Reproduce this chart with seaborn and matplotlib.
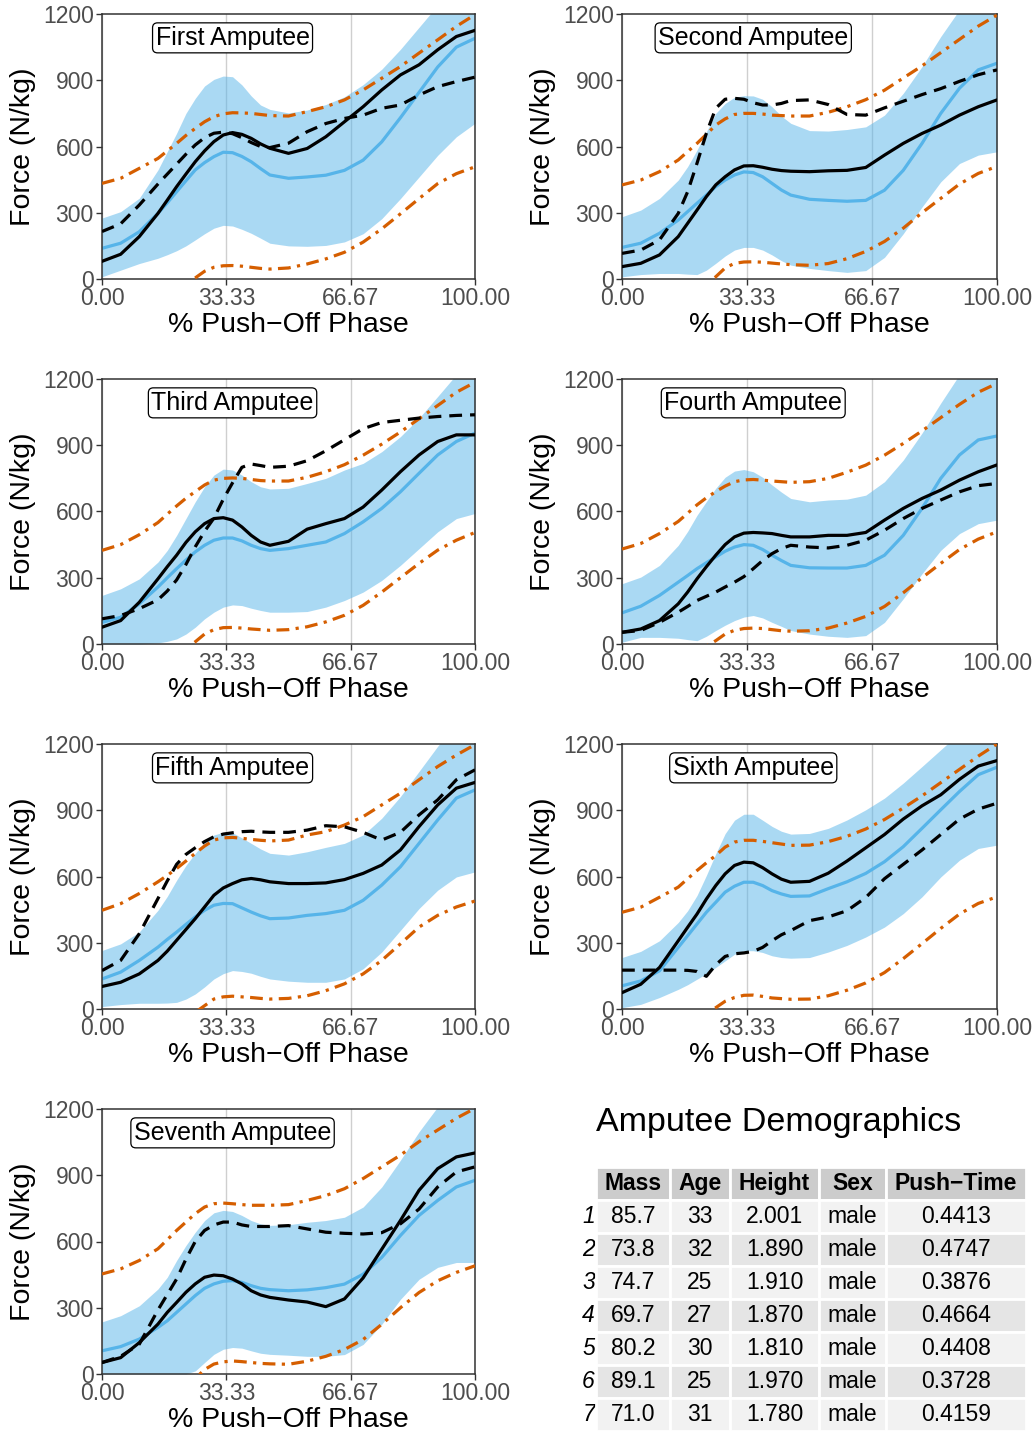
import numpy as np
import pandas as pd
import matplotlib
matplotlib.use("Agg")
import matplotlib.pyplot as plt
import seaborn as sns

# ---------------- data ----------------
phase = [0, 5, 10, 15, 17.5, 20, 22.5, 25, 27.5, 30, 32.5, 35, 37.5, 40, 42.5, 45,
         50, 55, 60, 65, 70, 75, 80, 85, 90, 95, 100]

panel_titles = ["First Amputee", "Second Amputee", "Third Amputee", "Fourth Amputee",
                "Fifth Amputee", "Sixth Amputee", "Seventh Amputee"]

ribbon_hi = [
    [276, 305, 366, 494, 577, 660, 750, 818, 874, 904, 919, 916, 879, 829, 788, 768, 752, 765, 790, 825, 880, 950, 1040, 1140, 1240, 1330, 1380],
    [282, 312, 365, 448, 509, 584, 667, 750, 795, 823, 830, 829, 814, 780, 738, 705, 672, 670, 677, 689, 742, 841, 962, 1098, 1220, 1300, 1350],
    [220, 250, 295, 371, 424, 492, 568, 644, 712, 765, 792, 788, 765, 735, 712, 702, 705, 727, 750, 788, 818, 871, 939, 1023, 1121, 1220, 1300],
    [273, 303, 356, 447, 510, 583, 645, 705, 755, 783, 790, 780, 755, 720, 688, 659, 644, 652, 656, 674, 735, 833, 955, 1091, 1220, 1300, 1350],
    [265, 295, 349, 447, 510, 583, 650, 705, 755, 788, 800, 798, 775, 750, 725, 705, 697, 712, 732, 750, 788, 864, 962, 1076, 1190, 1290, 1340],
    [233, 261, 309, 392, 445, 514, 605, 703, 794, 855, 882, 882, 855, 827, 805, 792, 795, 818, 856, 902, 955, 1023, 1098, 1174, 1250, 1320, 1360],
    [236, 264, 309, 385, 438, 514, 582, 642, 695, 730, 741, 736, 718, 695, 680, 673, 676, 687, 695, 710, 756, 847, 968, 1097, 1210, 1290, 1330],
]
ribbon_lo = [
    [10, 40, 70, 94, 110, 128, 150, 177, 205, 230, 243, 240, 225, 207, 185, 162, 150, 148, 152, 168, 205, 273, 364, 462, 560, 644, 705],
    [10, 20, 25, 25, 22, 20, 40, 71, 104, 131, 143, 143, 131, 109, 83, 63, 48, 38, 30, 38, 98, 205, 326, 440, 523, 561, 576],
    [0, 0, 0, 5, 12, 23, 45, 76, 114, 144, 167, 177, 174, 162, 152, 144, 144, 147, 167, 197, 235, 288, 356, 432, 508, 568, 591],
    [8, 30, 30, 26, 20, 15, 35, 61, 85, 106, 122, 129, 118, 98, 80, 61, 45, 35, 30, 38, 98, 205, 318, 424, 500, 545, 561],
    [11, 20, 26, 26, 27, 30, 45, 68, 100, 136, 160, 174, 170, 162, 148, 136, 126, 121, 121, 136, 182, 258, 356, 455, 538, 598, 621],
    [6, 21, 52, 89, 110, 135, 160, 188, 218, 248, 264, 264, 256, 241, 233, 230, 233, 258, 288, 326, 371, 432, 508, 598, 674, 727, 742],
    [0, 0, 0, 0, 0, 0, 0, 14, 52, 89, 112, 120, 117, 105, 94, 89, 85, 80, 80, 88, 134, 225, 338, 429, 483, 505, 505],
]
mean_curve = [
    [139, 162, 214, 297, 345, 395, 445, 494, 527, 554, 574, 572, 555, 531, 500, 471, 456, 462, 470, 492, 538, 621, 730, 845, 960, 1050, 1090],
    [143, 162, 207, 267, 305, 343, 380, 418, 448, 471, 485, 482, 463, 433, 403, 380, 361, 356, 352, 356, 402, 492, 614, 750, 864, 947, 977],
    [98, 121, 182, 258, 300, 341, 380, 417, 447, 470, 480, 480, 467, 447, 432, 424, 432, 447, 462, 500, 553, 614, 689, 773, 856, 917, 955],
    [141, 171, 220, 280, 310, 341, 368, 394, 420, 439, 450, 447, 428, 402, 378, 356, 345, 344, 344, 356, 402, 492, 614, 750, 856, 924, 942],
    [136, 167, 220, 280, 315, 348, 383, 417, 447, 470, 478, 477, 458, 439, 422, 409, 412, 424, 432, 447, 492, 561, 644, 750, 856, 955, 992],
    [105, 127, 173, 279, 332, 385, 438, 483, 529, 556, 574, 574, 559, 536, 521, 510, 512, 545, 576, 614, 667, 735, 818, 902, 985, 1061, 1095],
    [105, 124, 158, 211, 241, 279, 317, 355, 388, 408, 420, 423, 415, 400, 388, 382, 377, 381, 391, 407, 452, 528, 627, 718, 786, 847, 877],
]
pi_hi = [
    [433, 456, 501, 546, 580, 614, 650, 682, 712, 735, 748, 753, 752, 750, 745, 740, 738, 758, 780, 811, 856, 909, 962, 1023, 1083, 1144, 1197],
    [426, 448, 486, 539, 577, 614, 655, 697, 725, 745, 750, 750, 747, 742, 740, 738, 738, 755, 780, 812, 855, 910, 965, 1025, 1085, 1145, 1195],
    [424, 450, 495, 550, 588, 625, 660, 690, 720, 742, 750, 752, 750, 745, 740, 738, 738, 755, 780, 812, 855, 905, 960, 1020, 1080, 1140, 1185],
    [430, 455, 500, 555, 592, 630, 662, 690, 715, 735, 743, 745, 742, 738, 735, 732, 735, 750, 778, 810, 855, 908, 965, 1025, 1085, 1140, 1180],
    [447, 477, 523, 576, 605, 636, 670, 705, 738, 765, 775, 777, 773, 768, 764, 761, 765, 788, 803, 833, 871, 924, 977, 1038, 1098, 1150, 1197],
    [438, 461, 506, 552, 590, 627, 662, 695, 733, 756, 764, 764, 759, 753, 747, 741, 742, 758, 782, 815, 858, 910, 965, 1025, 1085, 1145, 1200],
    [453, 476, 514, 567, 608, 650, 688, 726, 756, 771, 774, 771, 767, 764, 764, 764, 767, 786, 808, 839, 885, 938, 991, 1052, 1105, 1158, 1203],
]
pi_lo = [
    [-300, -230, -160, -100, -75, -50, -20, 5, 35, 53, 60, 61, 58, 53, 48, 45, 50, 68, 91, 121, 167, 227, 295, 364, 432, 477, 508],
    [-300, -230, -160, -100, -75, -50, -20, 10, 50, 71, 77, 78, 76, 72, 68, 65, 62, 70, 92, 125, 170, 230, 300, 365, 430, 478, 510],
    [-300, -230, -160, -100, -75, -50, -20, 10, 45, 65, 74, 75, 72, 68, 65, 62, 65, 78, 100, 130, 175, 235, 300, 365, 425, 470, 505],
    [-300, -230, -160, -100, -70, -40, -10, 15, 45, 62, 70, 72, 70, 65, 60, 58, 60, 72, 95, 125, 170, 232, 300, 365, 428, 475, 508],
    [-300, -230, -160, -100, -80, -60, -40, -15, 15, 45, 55, 58, 55, 52, 48, 45, 48, 60, 83, 114, 159, 220, 295, 371, 424, 462, 489],
    [-300, -230, -160, -100, -75, -50, -20, 6, 35, 52, 62, 63, 57, 50, 47, 44, 45, 60, 85, 118, 165, 228, 296, 365, 430, 478, 508],
    [-300, -230, -160, -100, -80, -60, -40, -20, 20, 45, 55, 59, 56, 52, 48, 46, 44, 58, 80, 111, 156, 225, 300, 369, 422, 460, 490],
]
subject_solid = [
    [80, 112, 192, 297, 357, 418, 475, 531, 580, 622, 652, 663, 655, 637, 612, 592, 569, 591, 644, 712, 780, 856, 924, 970, 1038, 1098, 1126],
    [56, 71, 109, 192, 252, 312, 373, 426, 463, 494, 512, 513, 506, 497, 491, 488, 486, 490, 492, 505, 561, 614, 659, 697, 742, 780, 811],
    [76, 106, 189, 295, 350, 402, 460, 508, 545, 568, 572, 561, 530, 492, 462, 447, 465, 520, 545, 568, 620, 697, 780, 856, 917, 947, 947],
    [53, 68, 106, 182, 235, 295, 350, 402, 450, 485, 502, 505, 503, 500, 492, 485, 485, 492, 492, 505, 561, 614, 659, 697, 742, 780, 811],
    [102, 121, 159, 220, 262, 311, 360, 409, 462, 515, 548, 568, 585, 591, 585, 576, 568, 568, 571, 586, 614, 652, 720, 826, 924, 1000, 1026],
    [74, 112, 188, 309, 370, 430, 498, 559, 612, 650, 665, 662, 640, 612, 588, 574, 578, 615, 670, 730, 790, 860, 920, 970, 1040, 1100, 1125],
    [52, 74, 142, 226, 279, 324, 370, 408, 438, 448, 445, 430, 408, 377, 358, 347, 335, 326, 305, 340, 435, 565, 695, 832, 930, 983, 1001],
]
subject_dashed = [
    [215, 250, 335, 430, 475, 520, 565, 607, 640, 660, 665, 658, 640, 618, 600, 595, 615, 667, 704, 727, 742, 773, 788, 833, 871, 894, 914],
    [116, 131, 177, 297, 395, 524, 660, 773, 814, 818, 814, 798, 788, 788, 795, 808, 811, 790, 745, 742, 775, 805, 835, 862, 895, 925, 947],
    [114, 129, 160, 200, 240, 290, 360, 440, 510, 570, 655, 730, 800, 815, 808, 800, 805, 830, 875, 925, 975, 1003, 1013, 1023, 1030, 1035, 1038],
    [53, 61, 98, 144, 170, 197, 216, 235, 258, 280, 305, 341, 378, 409, 432, 447, 439, 435, 447, 470, 515, 568, 614, 652, 689, 717, 727],
    [174, 220, 341, 500, 580, 655, 700, 730, 758, 780, 792, 798, 803, 805, 802, 800, 800, 810, 830, 825, 800, 765, 800, 879, 947, 1038, 1083],
    [176, 176, 176, 176, 175, 170, 148, 200, 238, 250, 254, 261, 279, 309, 336, 355, 400, 417, 445, 505, 590, 655, 720, 790, 860, 905, 932],
    [52, 80, 135, 290, 360, 430, 520, 600, 650, 675, 688, 688, 675, 668, 668, 668, 672, 657, 642, 637, 634, 640, 680, 747, 847, 915, 938],
]

x_ticks = [0, 33.33, 66.67, 100]
x_tick_labels = ["0.00", "33.33", "66.67", "100.00"]
y_ticks = [0, 300, 600, 900, 1200]

# table data
tab_columns = ["Mass", "Age", "Height", "Sex", "Push\u2212Time"]
tab_rows = ["1", "2", "3", "4", "5", "6", "7"]
tab_mass = ["85.7", "73.8", "74.7", "69.7", "80.2", "89.1", "71.0"]
tab_age = ["33", "32", "25", "27", "30", "25", "31"]
tab_height = ["2.001", "1.890", "1.910", "1.870", "1.810", "1.970", "1.780"]
tab_sex = ["male"] * 7
tab_push = ["0.4413", "0.4747", "0.3876", "0.4664", "0.4408", "0.3728", "0.4159"]

# ---------------- style ----------------
sns.set_theme(style="white")
plt.rcParams["font.family"] = ["Liberation Sans", "DejaVu Sans"]

BLUE = "#56B4E9"
ORANGE = "#D55E00"
W, H = 1035, 1431

fig = plt.figure(figsize=(W / 100, H / 100), dpi=100)
fig.patch.set_facecolor("white")

lefts = [102, 622]
widths = [373, 375]
tops = [14, 379, 744, 1109]
ph = 265

for i, title in enumerate(panel_titles):
    r, c = divmod(i, 2)
    ax = fig.add_axes([lefts[c] / W, 1 - (tops[r] + ph) / H, widths[c] / W, ph / H])
    ax.set_facecolor("white")
    ax.set_axisbelow(True)
    ax.fill_between(phase, ribbon_lo[i], ribbon_hi[i], color=BLUE, alpha=0.5, lw=0, zorder=1)
    sns.lineplot(x=phase, y=mean_curve[i], ax=ax, color=BLUE, lw=2.3, zorder=2,
                 errorbar=None, sort=False)
    sns.lineplot(x=phase, y=pi_hi[i], ax=ax, color=ORANGE, lw=2.3, zorder=3,
                 linestyle=(0, (4, 2.0, 1, 2.0)), errorbar=None, sort=False)
    sns.lineplot(x=phase, y=pi_lo[i], ax=ax, color=ORANGE, lw=2.3, zorder=3,
                 linestyle=(0, (4, 2.0, 1, 2.0)), errorbar=None, sort=False)
    sns.lineplot(x=phase, y=subject_solid[i], ax=ax, color="black", lw=2.3, zorder=4,
                 errorbar=None, sort=False)
    sns.lineplot(x=phase, y=subject_dashed[i], ax=ax, color="black", lw=2.3, zorder=5,
                 linestyle=(0, (4, 2.5)), errorbar=None, sort=False)

    ax.set_xlim(0, 100)
    ax.set_ylim(0, 1200)
    ax.set_xticks(x_ticks)
    ax.set_xticklabels(x_tick_labels)
    ax.set_yticks(y_ticks)
    ax.grid(axis="x", color="#CFCFCF", lw=1.0)
    ax.grid(axis="y", visible=False)
    ax.tick_params(axis="both", direction="out", length=4, width=1, color="#333333",
                   labelcolor="#4D4D4D", labelsize=16.5, pad=2, bottom=True, left=True)
    for s in ax.spines.values():
        s.set_color("#333333")
        s.set_linewidth(1.1)
    ax.set_xlabel("% Push\u2212Off Phase", fontsize=20.5, color="black", labelpad=1)
    ax.set_ylabel("Force (N/kg)", fontsize=20.5, color="black", labelpad=5)
    ax.text(35, 1092, title, ha="center", va="center", fontsize=18, color="black", zorder=10,
            bbox=dict(boxstyle="round,pad=0.12,rounding_size=0.2", fc="white", ec="black", lw=0.9))

# ---------------- table ----------------
fig.text(596 / W, 1 - 1123 / H, "Amputee Demographics", ha="left", va="center",
         fontsize=24.5, color="black")

tab_left, tab_right, tab_top, tab_bottom = 574, 1026, 1167, 1431
tax = fig.add_axes([tab_left / W, 1 - tab_bottom / H, (tab_right - tab_left) / W,
                    (tab_bottom - tab_top) / H])
tax.axis("off")

cell_text = [[tab_rows[k], tab_mass[k], tab_age[k], tab_height[k], tab_sex[k], tab_push[k]]
             for k in range(len(tab_rows))]
col_px = [22, 74, 60, 89, 67, 140]
col_w = [v / sum(col_px) for v in col_px]
table = tax.table(cellText=cell_text, colLabels=[""] + tab_columns, colWidths=col_w,
                  cellLoc="center", bbox=[0, 0, 1, 1])
table.auto_set_font_size(False)
table.set_fontsize(16.5)
for (row, col), cell in table.get_celld().items():
    cell.set_edgecolor("white")
    cell.set_linewidth(2.0)
    txt = cell.get_text()
    txt.set_color("black")
    if col == 0:
        cell.set_facecolor("white")
        cell.set_linewidth(0)
        txt.set_fontstyle("italic")
        txt.set_ha("right")
        cell._loc = "right"
        cell.PAD = 0.05
    elif row == 0:
        cell.set_facecolor("#CCCCCC")
        txt.set_fontweight("bold")
    else:
        cell.set_facecolor("#F2F2F2" if row % 2 == 1 else "#E5E5E5")

fig.savefig("out.png", dpi=100, facecolor="white")
